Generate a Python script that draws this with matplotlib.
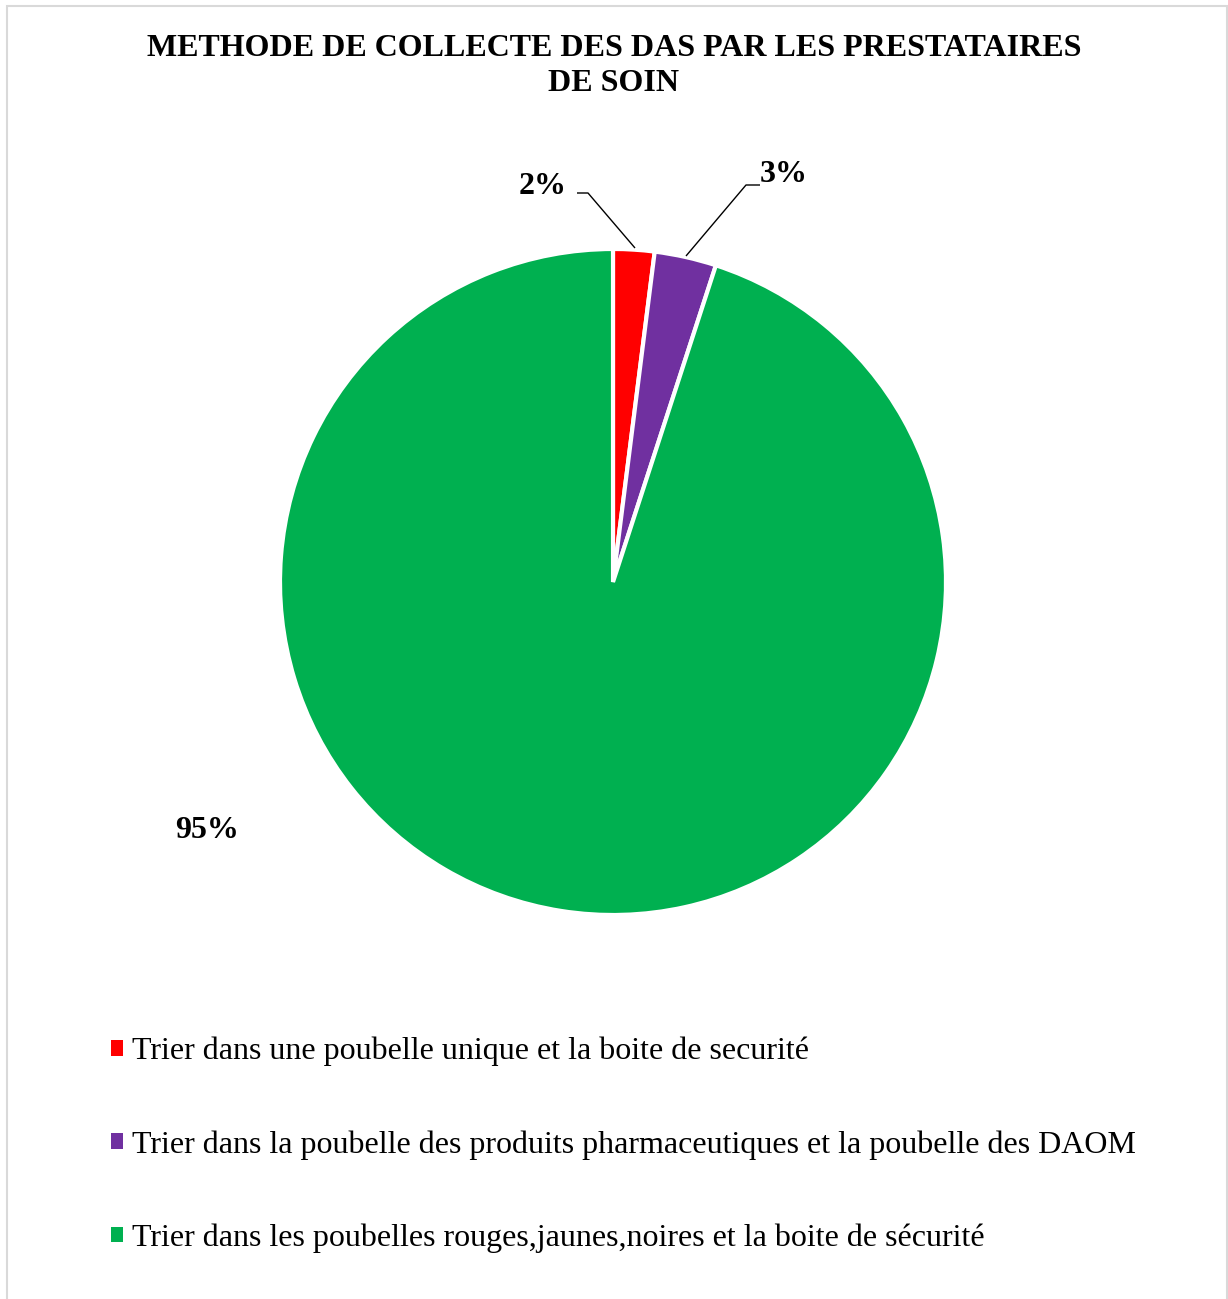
import matplotlib
matplotlib.use("Agg")
import matplotlib.pyplot as plt
from matplotlib.patches import Rectangle, Patch

title = "METHODE DE COLLECTE DES DAS PAR LES PRESTATAIRES\nDE SOIN"
categories = [
    "Trier dans une poubelle unique et la boite de securité",
    "Trier dans la poubelle des produits pharmaceutiques et la poubelle des DAOM",
    "Trier dans les poubelles rouges,jaunes,noires et la boite de sécurité",
]
values = [2, 3, 95]
colors = ["#FF0000", "#7030A0", "#00B050"]

plt.rcParams["font.family"] = ["Liberation Serif", "DejaVu Serif"]

W, H = 1228, 1299
fig = plt.figure(figsize=(W / 100, H / 100), dpi=100)
fig.patch.set_facecolor("white")

# light frame around the chart area
fig.add_artist(Rectangle((7 / W, -0.01), (1227 - 7) / W, 1 - 6 / H + 0.01,
                         transform=fig.transFigure, fill=False,
                         edgecolor="#D9D9D9", linewidth=1.5))

fig.text(614 / W, 1 - 66 / H, title, ha="center", va="center",
         fontsize=23, fontweight="bold", linespacing=1.3)

cx, cy, r = 613, 582, 333
ax = fig.add_axes([(cx - r) / W, 1 - (cy + r) / H, 2 * r / W, 2 * r / H])
wedges, _ = ax.pie(values, colors=colors, startangle=90, counterclock=False,
                   radius=1.0,
                   wedgeprops=dict(edgecolor="white", linewidth=3))
ax.set_xlim(-1, 1)
ax.set_ylim(-1, 1)
ax.set_aspect("auto")
ax.axis("off")


def px(x, y):
    """pixel position (from top-left) -> axes data coords"""
    return ((x - cx) / r, (cy - y) / r)


# leader lines: short horizontal tick then a diagonal to the slice edge
leaders = [
    [(577, 193), (588, 193), (635, 248)],
    [(760, 185), (746, 185), (686, 256)],
]
for pts in leaders:
    xs, ys = zip(*[px(*p) for p in pts])
    ax.plot(xs, ys, color="black", lw=1, clip_on=False,
            solid_capstyle="butt")

label_pos = [(543, 186), (784, 175), (207, 830)]
for v, (x, y) in zip(values, label_pos):
    ax.text(*px(x, y), f"{v}%", ha="center", va="center",
            fontsize=23, fontweight="bold", clip_on=False)

handles = [Patch(facecolor=c, edgecolor="none") for c in colors]
leg = fig.legend(handles, categories, loc="upper left",
                 bbox_to_anchor=(82 / W, 1 - 1008 / H),
                 frameon=False, fontsize=23, handlelength=0.375,
                 handleheight=0.375, handletextpad=0.3, labelspacing=2.0)

fig.savefig("out.png", dpi=100, facecolor="white")
